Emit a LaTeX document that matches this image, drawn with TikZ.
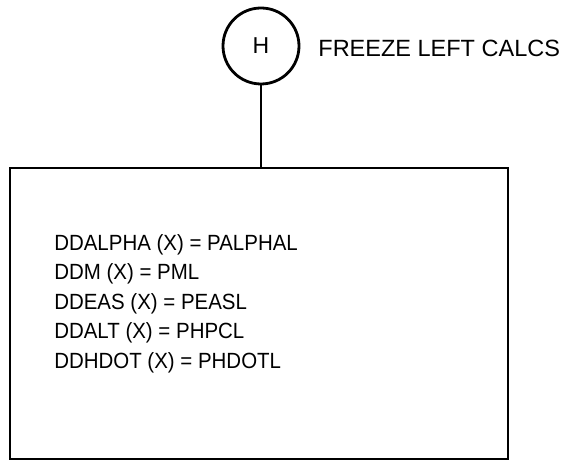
\documentclass[tikz,border=0pt]{standalone}
\usepackage{fontspec}
\setmainfont{Liberation Sans}
\usetikzlibrary{calc}

\begin{document}
\begin{tikzpicture}[x=1pt,y=1pt,line width=2.8pt]
\useasboundingbox (0,0) rectangle (563,460);
\coordinate (F0) at (261,414);
  \node[draw,circle,minimum size=76pt,inner sep=0pt,font=\fontsize{23}{27}\selectfont] (H) at (F0) {H};
  \node[anchor=base west,inner sep=0pt,font=\fontsize{23.5}{27}\selectfont] (T) at ($(F0)+(56,-11)$) {FREEZE LEFT CALCS};
  \node[draw,minimum width=498pt,minimum height=291pt,inner sep=0pt] (B) at (259,146.5) {};
  \node[anchor=base west,inner sep=0pt,xscale=0.93,font=\fontsize{22}{27}\selectfont] (L1) at (53,209.5) {DDALPHA (X) = PALPHAL};
  \node[anchor=base west,inner sep=0pt,xscale=0.93,font=\fontsize{22}{27}\selectfont] (L2) at ($(L1.base west)+(0,-29.5)$) {DDM (X) = PML};
  \node[anchor=base west,inner sep=0pt,xscale=0.93,font=\fontsize{22}{27}\selectfont] (L3) at ($(L2.base west)+(0,-29.5)$) {DDEAS (X) = PEASL};
  \node[anchor=base west,inner sep=0pt,xscale=0.93,font=\fontsize{22}{27}\selectfont] (L4) at ($(L3.base west)+(0,-29.5)$) {DDALT (X) = PHPCL};
  \node[anchor=base west,inner sep=0pt,xscale=0.93,font=\fontsize{22}{27}\selectfont] (L5) at ($(L4.base west)+(0,-29.5)$) {DDHDOT (X) = PHDOTL};
  \path[-] (H) edge (H |- B.north);
\end{tikzpicture}
\end{document}
